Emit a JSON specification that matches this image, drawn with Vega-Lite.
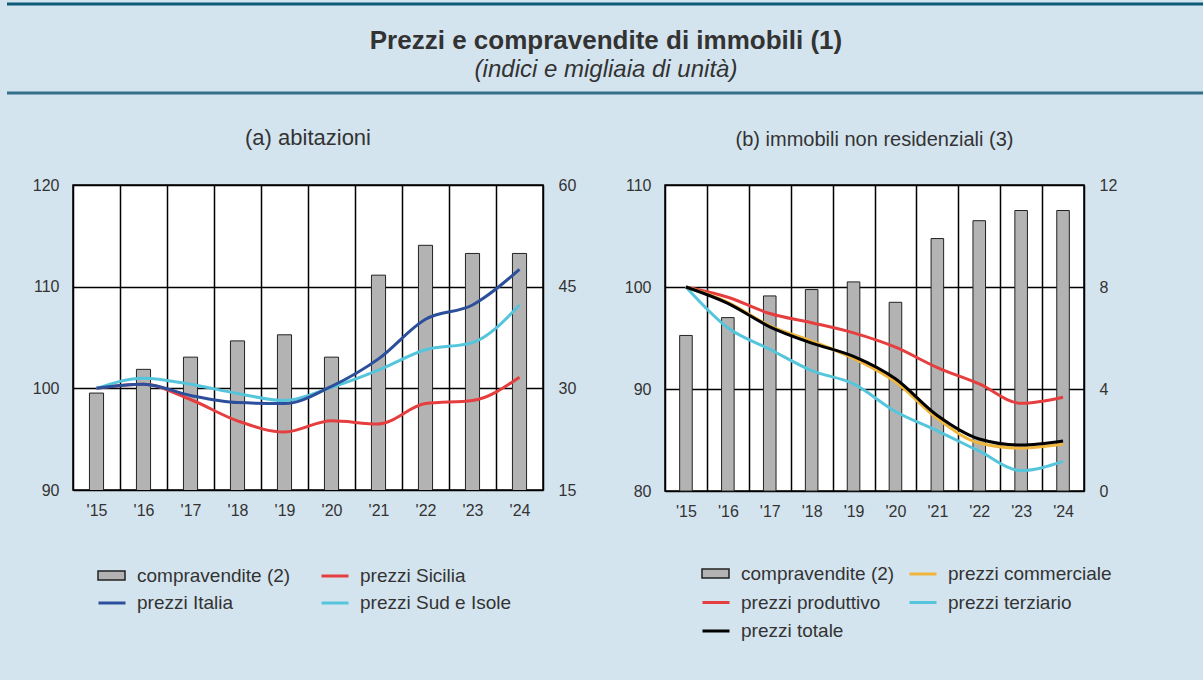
{
  "$schema": "https://vega.github.io/schema/vega-lite/v6.json",
  "autosize": {"type": "pad"},
  "padding": {"left": 5, "top": 2, "right": 0, "bottom": 50},
  "background": "#d3e4ef",
  "columns": 1,
  "spacing": 31,
  "config": {
    "font": "Liberation Sans",
    "view": {"fill": "white", "stroke": "black", "strokeWidth": 1.5},
    "axis": {"labelFontSize": 16, "labelColor": "#333333", "ticks": false, "domain": false, "gridColor": "black", "gridWidth": 1.5, "gridOpacity": 1, "title": null},
    "title": {"fontSize": 20, "fontWeight": "normal", "color": "#333333", "offset": 27},
    "legend": {"title": null, "labelFontSize": 19, "labelColor": "#333333", "labelLimit": 400, "symbolSize": 729, "labelOffset": 10, "padding": 0, "direction": "horizontal"}
  },
  "datasets": {
    "abit": [
      {"anno": "'15", "serie": "compravendite (2)", "valore": 29.3},
      {"anno": "'16", "serie": "compravendite (2)", "valore": 32.8},
      {"anno": "'17", "serie": "compravendite (2)", "valore": 34.6},
      {"anno": "'18", "serie": "compravendite (2)", "valore": 37.0},
      {"anno": "'19", "serie": "compravendite (2)", "valore": 37.9},
      {"anno": "'20", "serie": "compravendite (2)", "valore": 34.6},
      {"anno": "'21", "serie": "compravendite (2)", "valore": 46.7},
      {"anno": "'22", "serie": "compravendite (2)", "valore": 51.1},
      {"anno": "'23", "serie": "compravendite (2)", "valore": 49.9},
      {"anno": "'24", "serie": "compravendite (2)", "valore": 49.9},
      {"anno": "'15", "serie": "prezzi Sicilia", "valore": 100.0},
      {"anno": "'16", "serie": "prezzi Sicilia", "valore": 100.4},
      {"anno": "'17", "serie": "prezzi Sicilia", "valore": 98.9},
      {"anno": "'18", "serie": "prezzi Sicilia", "valore": 96.8},
      {"anno": "'19", "serie": "prezzi Sicilia", "valore": 95.7},
      {"anno": "'20", "serie": "prezzi Sicilia", "valore": 96.8},
      {"anno": "'21", "serie": "prezzi Sicilia", "valore": 96.5},
      {"anno": "'22", "serie": "prezzi Sicilia", "valore": 98.5},
      {"anno": "'23", "serie": "prezzi Sicilia", "valore": 98.8},
      {"anno": "'24", "serie": "prezzi Sicilia", "valore": 101.1},
      {"anno": "'15", "serie": "prezzi Sud e Isole", "valore": 100.0},
      {"anno": "'16", "serie": "prezzi Sud e Isole", "valore": 101.0},
      {"anno": "'17", "serie": "prezzi Sud e Isole", "valore": 100.4},
      {"anno": "'18", "serie": "prezzi Sud e Isole", "valore": 99.5},
      {"anno": "'19", "serie": "prezzi Sud e Isole", "valore": 98.8},
      {"anno": "'20", "serie": "prezzi Sud e Isole", "valore": 100.1},
      {"anno": "'21", "serie": "prezzi Sud e Isole", "valore": 101.8},
      {"anno": "'22", "serie": "prezzi Sud e Isole", "valore": 103.8},
      {"anno": "'23", "serie": "prezzi Sud e Isole", "valore": 104.5},
      {"anno": "'24", "serie": "prezzi Sud e Isole", "valore": 108.2},
      {"anno": "'15", "serie": "prezzi Italia", "valore": 100.0},
      {"anno": "'16", "serie": "prezzi Italia", "valore": 100.4},
      {"anno": "'17", "serie": "prezzi Italia", "valore": 99.3},
      {"anno": "'18", "serie": "prezzi Italia", "valore": 98.6},
      {"anno": "'19", "serie": "prezzi Italia", "valore": 98.5},
      {"anno": "'20", "serie": "prezzi Italia", "valore": 100.2},
      {"anno": "'21", "serie": "prezzi Italia", "valore": 102.9},
      {"anno": "'22", "serie": "prezzi Italia", "valore": 106.8},
      {"anno": "'23", "serie": "prezzi Italia", "valore": 108.2},
      {"anno": "'24", "serie": "prezzi Italia", "valore": 111.7}
    ],
    "nonres": [
      {"anno": "'15", "serie": "compravendite (2)", "valore": 6.1},
      {"anno": "'16", "serie": "compravendite (2)", "valore": 6.8},
      {"anno": "'17", "serie": "compravendite (2)", "valore": 7.65},
      {"anno": "'18", "serie": "compravendite (2)", "valore": 7.9},
      {"anno": "'19", "serie": "compravendite (2)", "valore": 8.2},
      {"anno": "'20", "serie": "compravendite (2)", "valore": 7.4},
      {"anno": "'21", "serie": "compravendite (2)", "valore": 9.9},
      {"anno": "'22", "serie": "compravendite (2)", "valore": 10.6},
      {"anno": "'23", "serie": "compravendite (2)", "valore": 11.0},
      {"anno": "'24", "serie": "compravendite (2)", "valore": 11.0},
      {"anno": "'15", "serie": "prezzi produttivo", "valore": 100.0},
      {"anno": "'16", "serie": "prezzi produttivo", "valore": 99.0},
      {"anno": "'17", "serie": "prezzi produttivo", "valore": 97.4},
      {"anno": "'18", "serie": "prezzi produttivo", "valore": 96.5},
      {"anno": "'19", "serie": "prezzi produttivo", "valore": 95.5},
      {"anno": "'20", "serie": "prezzi produttivo", "valore": 94.1},
      {"anno": "'21", "serie": "prezzi produttivo", "valore": 92.1},
      {"anno": "'22", "serie": "prezzi produttivo", "valore": 90.5},
      {"anno": "'23", "serie": "prezzi produttivo", "valore": 88.6},
      {"anno": "'24", "serie": "prezzi produttivo", "valore": 89.2},
      {"anno": "'15", "serie": "prezzi terziario", "valore": 100.0},
      {"anno": "'16", "serie": "prezzi terziario", "valore": 96.0},
      {"anno": "'17", "serie": "prezzi terziario", "valore": 93.9},
      {"anno": "'18", "serie": "prezzi terziario", "valore": 91.8},
      {"anno": "'19", "serie": "prezzi terziario", "valore": 90.5},
      {"anno": "'20", "serie": "prezzi terziario", "valore": 87.8},
      {"anno": "'21", "serie": "prezzi terziario", "valore": 85.9},
      {"anno": "'22", "serie": "prezzi terziario", "valore": 83.9},
      {"anno": "'23", "serie": "prezzi terziario", "valore": 82.0},
      {"anno": "'24", "serie": "prezzi terziario", "valore": 82.9},
      {"anno": "'15", "serie": "prezzi commerciale", "valore": 100.0},
      {"anno": "'16", "serie": "prezzi commerciale", "valore": 98.5},
      {"anno": "'17", "serie": "prezzi commerciale", "valore": 96.2},
      {"anno": "'18", "serie": "prezzi commerciale", "valore": 94.7},
      {"anno": "'19", "serie": "prezzi commerciale", "valore": 93.0},
      {"anno": "'20", "serie": "prezzi commerciale", "valore": 90.7},
      {"anno": "'21", "serie": "prezzi commerciale", "valore": 87.1},
      {"anno": "'22", "serie": "prezzi commerciale", "valore": 84.7},
      {"anno": "'23", "serie": "prezzi commerciale", "valore": 84.2},
      {"anno": "'24", "serie": "prezzi commerciale", "valore": 84.6},
      {"anno": "'15", "serie": "prezzi totale", "valore": 100.0},
      {"anno": "'16", "serie": "prezzi totale", "valore": 98.4},
      {"anno": "'17", "serie": "prezzi totale", "valore": 96.1},
      {"anno": "'18", "serie": "prezzi totale", "valore": 94.5},
      {"anno": "'19", "serie": "prezzi totale", "valore": 93.2},
      {"anno": "'20", "serie": "prezzi totale", "valore": 91.0},
      {"anno": "'21", "serie": "prezzi totale", "valore": 87.4},
      {"anno": "'22", "serie": "prezzi totale", "valore": 85.1},
      {"anno": "'23", "serie": "prezzi totale", "valore": 84.5},
      {"anno": "'24", "serie": "prezzi totale", "valore": 84.9}
    ],
    "cornice": [{"pos": "sopra"}, {"pos": "sotto"}]
  },
  "concat": [
    {
      "width": 1198,
      "height": 89,
      "view": {"stroke": null, "fill": null},
      "title": {
        "text": "Prezzi e compravendite di immobili (1)",
        "subtitle": "(indici e migliaia di unità)",
        "anchor": "middle",
        "offset": -79,
        "fontSize": 26,
        "fontWeight": "bold",
        "color": "#333333",
        "subtitleFontSize": 24,
        "subtitleFontStyle": "italic",
        "subtitleColor": "#333333",
        "subtitlePadding": 4
      },
      "data": {"name": "cornice"},
      "mark": {"type": "rule", "strokeWidth": 3},
      "encoding": {
        "y": {"field": "pos", "type": "ordinal", "scale": {"type": "point", "padding": 0, "domain": ["sopra", "sotto"]}, "axis": null},
        "color": {"field": "pos", "type": "nominal", "scale": {"domain": ["sopra", "sotto"], "range": ["#0b5a78", "#35708a"]}, "legend": null}
      }
    },
    {
      "hconcat": [
        {
          "width": 10,
          "height": 300,
          "view": {"stroke": null, "fill": null},
          "data": {"values": [{"vuoto": 0}]},
          "mark": {"type": "point", "opacity": 0},
          "encoding": {}
        },
        {
          "width": 470,
          "height": 305,
          "title": {"text": "(a) abitazioni", "fontSize": 22},
          "data": {"name": "abit"},
          "encoding": {
            "x": {"field": "anno", "type": "ordinal", "sort": null,
                  "scale": {"paddingInner": 0, "paddingOuter": 0},
                  "axis": {"grid": true, "tickBand": "extent", "labelAngle": 0, "labelPadding": 12}}
          },
          "layer": [
            {
              "transform": [{"filter": "datum.serie === 'compravendite (2)'"}],
              "mark": {"type": "bar", "width": {"band": 0.3}, "stroke": "#222222", "strokeWidth": 1, "clip": true},
              "encoding": {
                "y": {"field": "valore", "type": "quantitative", "scale": {"domain": [15, 60], "nice": false, "zero": false},
                      "axis": {"orient": "right", "values": [15, 30, 45, 60], "grid": false, "labelPadding": 15, "minExtent": 50}},
                "fill": {"field": "serie", "type": "nominal",
                         "scale": {"domain": ["compravendite (2)"], "range": ["#b3b3b3"]},
                         "legend": {"orient": "none", "legendX": 24, "legendY": 376, "labelExpr": "''",
                                    "symbolType": "M-1,-0.33H1V0.33H-1Z", "symbolStrokeColor": "#222222", "symbolStrokeWidth": 1.5}}
              }
            },
            {
              "transform": [{"filter": "datum.serie !== 'compravendite (2)'"}],
              "mark": {"type": "line", "interpolate": "monotone", "strokeWidth": 3},
              "encoding": {
                "y": {"field": "valore", "type": "quantitative", "scale": {"domain": [90, 120], "nice": false, "zero": false},
                      "axis": {"orient": "left", "values": [90, 100, 110, 120], "grid": true, "labelPadding": 14, "minExtent": 45}},
                "stroke": {"field": "serie", "type": "nominal",
                           "scale": {"domain": ["compravendite (2)", "prezzi Sicilia", "prezzi Italia", "prezzi Sud e Isole"],
                                     "range": ["transparent", "#e63e3e", "#2c4f9c", "#55c5dc"]},
                           "legend": {"orient": "none", "legendX": 24, "legendY": 376, "columns": 2, "columnPadding": 24, "rowPadding": 2,
                                      "symbolType": "stroke", "symbolStrokeWidth": 3}}
              }
            }
          ],
          "resolve": {"scale": {"y": "independent"}}
        },
        {
          "width": 419,
          "height": 306,
          "title": {"text": "(b) immobili non residenziali (3)"},
          "data": {"name": "nonres"},
          "encoding": {
            "x": {"field": "anno", "type": "ordinal", "sort": null,
                  "scale": {"paddingInner": 0, "paddingOuter": 0},
                  "axis": {"grid": true, "tickBand": "extent", "labelAngle": 0, "labelPadding": 12}}
          },
          "layer": [
            {
              "transform": [{"filter": "datum.serie === 'compravendite (2)'"}],
              "mark": {"type": "bar", "width": {"band": 0.3}, "stroke": "#222222", "strokeWidth": 1},
              "encoding": {
                "y": {"field": "valore", "type": "quantitative", "scale": {"domain": [0, 12], "nice": false},
                      "axis": {"orient": "right", "values": [0, 4, 8, 12], "grid": false, "labelPadding": 15}},
                "fill": {"field": "serie", "type": "nominal",
                         "scale": {"domain": ["compravendite (2)"], "range": ["#b3b3b3"]},
                         "legend": {"orient": "none", "legendX": 36, "legendY": 374, "labelExpr": "''",
                                    "symbolType": "M-1,-0.33H1V0.33H-1Z", "symbolStrokeColor": "#222222", "symbolStrokeWidth": 1.5}}
              }
            },
            {
              "transform": [{"filter": "datum.serie !== 'compravendite (2)'"}],
              "mark": {"type": "line", "interpolate": "monotone", "strokeWidth": 3},
              "encoding": {
                "y": {"field": "valore", "type": "quantitative", "scale": {"domain": [80, 110], "nice": false, "zero": false},
                      "axis": {"orient": "left", "values": [80, 90, 100, 110], "grid": true, "labelPadding": 14, "minExtent": 60}},
                "stroke": {"field": "serie", "type": "nominal",
                           "scale": {"domain": ["compravendite (2)", "prezzi commerciale", "prezzi produttivo", "prezzi terziario", "prezzi totale"],
                                     "range": ["transparent", "#f0b63c", "#e63e3e", "#55c5dc", "#000000"]},
                           "legend": {"orient": "none", "legendX": 36, "legendY": 374, "columns": 2, "columnPadding": 8, "rowPadding": 3.5,
                                      "symbolType": "stroke", "symbolStrokeWidth": 3}}
              }
            }
          ],
          "resolve": {"scale": {"y": "independent"}}
        }
      ],
      "spacing": 10,
      "resolve": {"scale": {"fill": "independent", "stroke": "independent"}}
    }
  ]
}
